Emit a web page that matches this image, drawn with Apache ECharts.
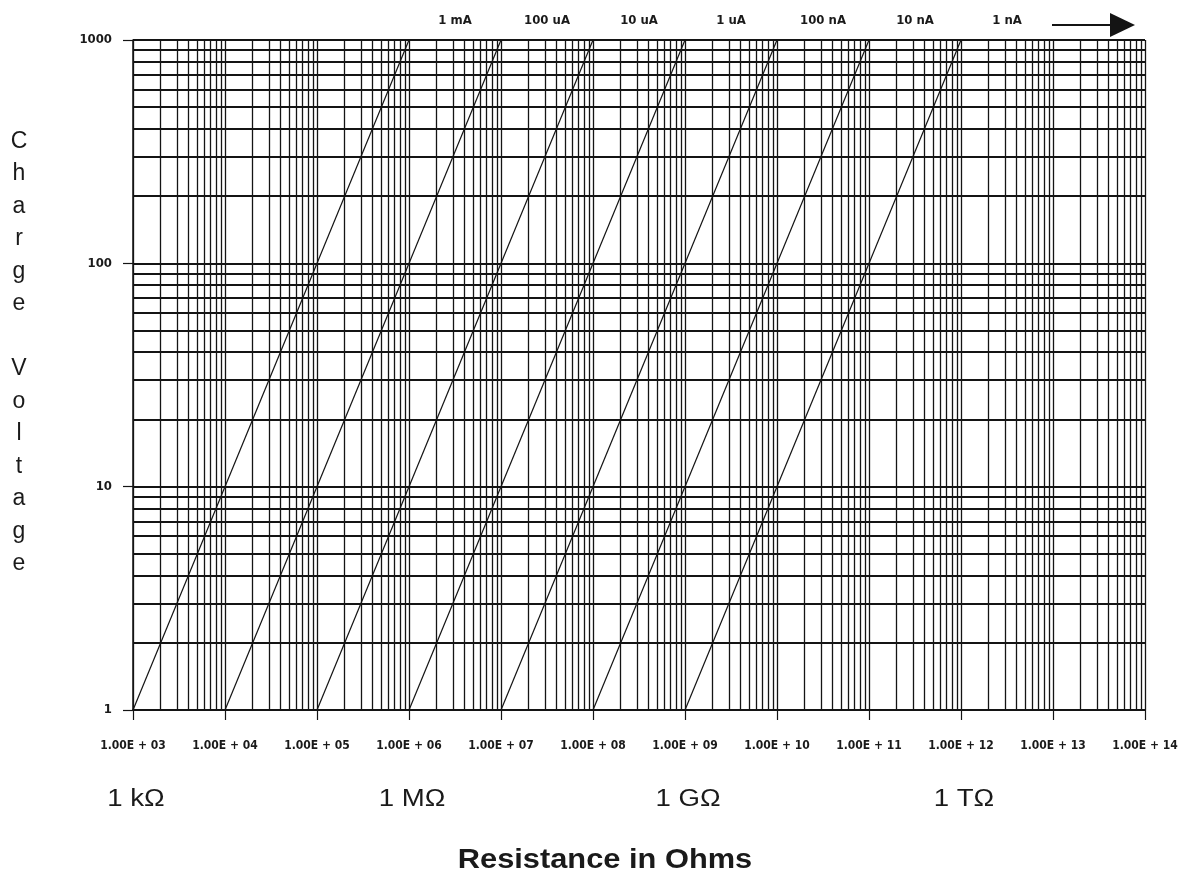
<!DOCTYPE html>
<html>
<head>
<meta charset="utf-8">
<script src="https://cdn.jsdelivr.net/npm/echarts@6/dist/echarts.min.js"></script>
<style>
  html, body { margin: 0; padding: 0; background: #fff; }
  #chart { width: 1187px; height: 878px; }
</style>
</head>
<body>
<div id="chart"></div>
<script>
// V = I * R lines, one per charge current
var currentLabels = ['1 mA', '100 uA', '10 uA', '1 uA', '100 nA', '10 nA', '1 nA'];
var lineStartR = [1e3, 1e4, 1e5, 1e6, 1e7, 1e8, 1e9];       // R where V = 1
var lineEndR = [1e6, 1e7, 1e8, 1e9, 1e10, 1e11, 1e12];      // R where V = 1000
var voltRange = [1, 1000];

var xTickLabels = ['1.00E + 03', '1.00E + 04', '1.00E + 05', '1.00E + 06', '1.00E + 07', '1.00E + 08',
  '1.00E + 09', '1.00E + 10', '1.00E + 11', '1.00E + 12', '1.00E + 13', '1.00E + 14'];
var yTickLabels = ['1', '10', '100', '1000'];
var ohmLabels = ['1 k\u03A9', '1 M\u03A9', '1 G\u03A9', '1 T\u03A9'];
var ohmAt = [1e3, 1e6, 1e9, 1e12];

var xMin = 1e3, xMax = 1e14, yMin = 1, yMax = 1000;
var ink = '#141414';
var tickFont = 'DejaVu Sans Condensed';

// log paper grid lines (1..9 in every decade)
var gridLines = [];
for (var d = 3; d < 14; d++) {
  for (var m = 1; m <= 9; m++) {
    gridLines.push({ xAxis: m * Math.pow(10, d), lineStyle: { width: 1.3 } });
  }
}
gridLines.push({ xAxis: xMax, lineStyle: { width: 1.3 } });
for (var k = 0; k < 3; k++) {
  for (var n = 1; n <= 9; n++) {
    gridLines.push({ yAxis: n * Math.pow(10, k), lineStyle: { width: 1.9 } });
  }
}
gridLines.push({ yAxis: yMax, lineStyle: { width: 1.9 } });

var series = currentLabels.map(function (name, i) {
  var s = {
    name: name,
    type: 'line',
    data: [[lineStartR[i], voltRange[0]], [lineEndR[i], voltRange[1]]],
    showSymbol: false,
    symbol: 'none',
    silent: true,
    z: 5,
    lineStyle: { color: ink, width: 1.2 }
  };
  if (i === 0) {
    s.markLine = {
      silent: true,
      symbol: ['none', 'none'],
      label: { show: false },
      animation: false,
      lineStyle: { type: 'solid', color: ink },
      data: gridLines
    };
  }
  return s;
});

var chart = echarts.init(document.getElementById('chart'));
chart.setOption({
  animation: false,
  backgroundColor: '#fff',
  grid: { left: 133, right: 42, top: 40, bottom: 168 },
  xAxis: {
    type: 'log',
    logBase: 10,
    min: xMin,
    max: xMax,
    interval: 1,
    axisLine: { show: true, lineStyle: { color: ink, width: 1.5 } },
    axisTick: { show: true, interval: 0, length: 10, lineStyle: { color: ink, width: 1.2 } },
    splitLine: { show: false },
    axisLabel: {
      interval: 0,
      margin: 30,
      showMinLabel: true,
      showMaxLabel: true,
      hideOverlap: false,
      color: '#1a1a1a',
      fontFamily: tickFont,
      fontWeight: 'bold',
      fontSize: 12,
      formatter: function (v) {
        return xTickLabels[Math.round(Math.log10(v)) - 3] || '';
      }
    }
  },
  yAxis: {
    type: 'log',
    logBase: 10,
    min: yMin,
    max: yMax,
    interval: 1,
    axisLine: { show: true, lineStyle: { color: ink, width: 1.5 } },
    axisTick: { show: true, interval: 0, length: 10, lineStyle: { color: ink, width: 1.2 } },
    splitLine: { show: false },
    axisLabel: {
      interval: 0,
      margin: 21,
      showMinLabel: true,
      showMaxLabel: true,
      color: '#1a1a1a',
      fontFamily: tickFont,
      fontWeight: 'bold',
      fontSize: 13,
      formatter: function (v) {
        return yTickLabels[Math.round(Math.log10(v))] || '';
      }
    }
  },
  series: series
});

// labels placed from the axis scale
var graphics = [];
currentLabels.forEach(function (name, i) {
  var p0 = chart.convertToPixel({ gridIndex: 0 }, [lineEndR[i], yMax]);
  var p1 = chart.convertToPixel({ gridIndex: 0 }, [lineEndR[i] * 10, yMax]);
  graphics.push({
    type: 'text',
    x: (p0[0] + p1[0]) / 2,
    y: 21,
    style: {
      text: name, fill: '#1a1a1a',
      font: 'bold 13px "' + tickFont + '"',
      textAlign: 'center', textVerticalAlign: 'middle'
    }
  });
});
ohmLabels.forEach(function (name, i) {
  var p = chart.convertToPixel({ gridIndex: 0 }, [ohmAt[i], yMin]);
  graphics.push({
    type: 'text',
    x: p[0] + 3,
    y: 800,
    scaleX: 1.2,
    style: {
      text: name, fill: '#1a1a1a',
      font: '23px "Liberation Sans", Arial, sans-serif',
      textAlign: 'center', textVerticalAlign: 'middle'
    }
  });
});
graphics.push({
  type: 'text', x: 605, y: 860,
  scaleX: 1.1,
  style: {
    text: 'Resistance in Ohms', fill: '#1a1a1a',
    font: 'bold 28px "Liberation Sans", Arial, sans-serif',
    textAlign: 'center', textVerticalAlign: 'middle'
  }
});
graphics.push({
  type: 'text', x: 19, y: 125,
  style: {
    text: 'C\nh\na\nr\ng\ne\n\nV\no\nl\nt\na\ng\ne',
    fill: '#1a1a1a',
    font: '23px "Liberation Sans", Arial, sans-serif',
    lineHeight: 32.5,
    textAlign: 'center', textVerticalAlign: 'top'
  }
});
// arrow at top right
graphics.push({
  type: 'line',
  shape: { x1: 1052, y1: 25, x2: 1115, y2: 25 },
  style: { stroke: ink, lineWidth: 2 }
});
graphics.push({
  type: 'polygon',
  shape: { points: [[1110, 13], [1135, 25], [1110, 37]] },
  style: { fill: ink }
});
chart.setOption({ graphic: graphics });
</script>
</body>
</html>
